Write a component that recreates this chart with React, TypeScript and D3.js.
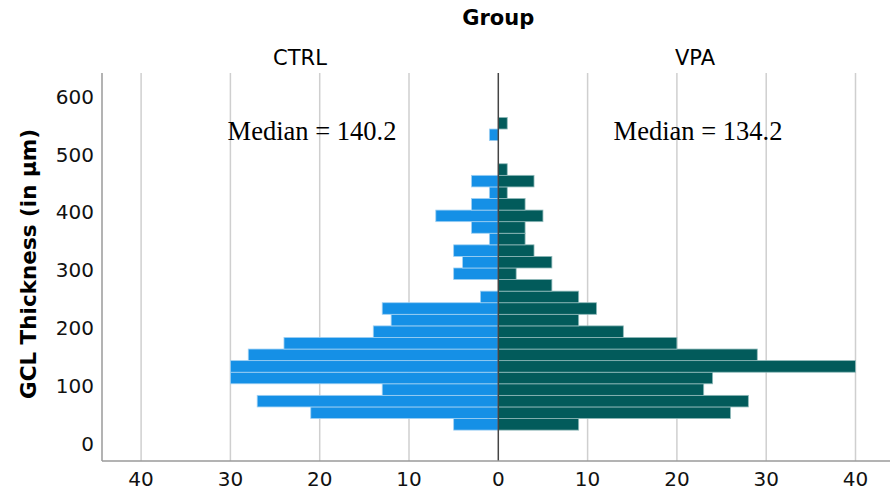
import React from "react";
import * as d3 from "d3";

// Histogram bins of GCL thickness (µm), lower edges, width 20
const binLower = [24, 44, 64, 84, 104, 124, 144, 164, 184, 204, 224, 244, 264, 284, 304, 324, 344, 364, 384, 404, 424, 444, 464, 484, 504, 524, 544];
const BIN_WIDTH = 20;

// Frequencies per bin
const ctrlCounts = [5, 21, 27, 13, 30, 30, 28, 24, 14, 12, 13, 2, 0, 5, 4, 5, 1, 3, 7, 3, 1, 3, 0, 0, 0, 1, 0];
const vpaCounts = [9, 26, 28, 23, 24, 40, 29, 20, 14, 9, 11, 9, 6, 2, 6, 4, 3, 3, 5, 3, 1, 4, 1, 0, 0, 0, 1];

const groups = ["CTRL", "VPA"];
const medians = [140.2, 134.2];
const yTicks = [0, 100, 200, 300, 400, 500, 600];
const xTicks = [0, 10, 20, 30, 40];

const W = 890;
const H = 496;
const plotLeft = 102;
const plotTop = 73;
const plotBottom = 461;
const centerX = 498.3;

const CTRL_COLOR = "#1590e6";
const VPA_COLOR = "#025b5b";
const SANS = "'DejaVu Sans', Verdana, sans-serif";
const SERIF = "'Liberation Serif', 'Times New Roman', serif";

export default function App() {
  const xLeft = d3.scaleLinear().domain([0, 40]).range([centerX, 141.1]);
  const xRight = d3.scaleLinear().domain([0, 40]).range([centerX, 855.5]);
  const y = d3.scaleLinear().domain([0, 600]).range([444, 96.6]);

  const gridXs = [
    ...xTicks.filter((t) => t > 0).map((t) => xLeft(t)),
    ...xTicks.filter((t) => t > 0).map((t) => xRight(t)),
  ];

  return (
    <svg width={W} height={H} style={{ position: "absolute", left: 0, top: 0, background: "#fff" }}>
      {/* titles */}
      <text x={centerX} y={25} textAnchor="middle" fontFamily={SANS} fontWeight="bold" fontSize={21}>
        Group
      </text>
      <text x={300} y={64.5} textAnchor="middle" fontFamily={SANS} fontSize={21}>
        {groups[0]}
      </text>
      <text x={695} y={64.5} textAnchor="middle" fontFamily={SANS} fontSize={21}>
        {groups[1]}
      </text>

      {/* gridlines */}
      {gridXs.map((gx, i) => (
        <line key={i} x1={gx} x2={gx} y1={plotTop} y2={plotBottom} stroke="#cfcfcf" strokeWidth={1.5} />
      ))}

      {/* bars */}
      {binLower.map((lo, i) => {
        const yTop = y(lo + BIN_WIDTH);
        const h = y(lo) - yTop;
        return (
          <g key={lo}>
            {ctrlCounts[i] > 0 && (
              <rect
                x={xLeft(ctrlCounts[i])}
                y={yTop}
                width={centerX - xLeft(ctrlCounts[i])}
                height={h}
                fill={CTRL_COLOR}
                stroke="#9fd0f3"
                strokeWidth={0.8}
              />
            )}
            {vpaCounts[i] > 0 && (
              <rect
                x={centerX}
                y={yTop}
                width={xRight(vpaCounts[i]) - centerX}
                height={h}
                fill={VPA_COLOR}
                stroke="#8fb9b9"
                strokeWidth={0.8}
              />
            )}
          </g>
        );
      })}

      {/* center line */}
      <line x1={centerX} x2={centerX} y1={plotTop} y2={plotBottom} stroke="#444" strokeWidth={1.5} />

      {/* axes */}
      <line x1={plotLeft} x2={plotLeft} y1={plotTop} y2={plotBottom} stroke="#9a9a9a" strokeWidth={1.5} />
      <line x1={plotLeft} x2={W} y1={plotBottom} y2={plotBottom} stroke="#9a9a9a" strokeWidth={1.5} />

      {/* y ticks */}
      {yTicks.map((t) => (
        <text key={t} x={94} y={y(t) + 7} textAnchor="end" fontFamily={SANS} fontSize={20} fill="#111">
          {t}
        </text>
      ))}

      {/* x ticks */}
      {xTicks.map((t) => (
        <text key={"l" + t} x={xLeft(t)} y={486} textAnchor="middle" fontFamily={SANS} fontSize={20} fill="#111">
          {t}
        </text>
      ))}
      {xTicks
        .filter((t) => t > 0)
        .map((t) => (
          <text key={"r" + t} x={xRight(t)} y={486} textAnchor="middle" fontFamily={SANS} fontSize={20} fill="#111">
            {t}
          </text>
        ))}

      {/* y axis title */}
      <text
        transform={`translate(36, 264) rotate(-90)`}
        textAnchor="middle"
        fontFamily={SANS}
        fontWeight="bold"
        fontSize={21.5}
      >
        GCL Thickness (in µm)
      </text>

      {/* medians */}
      <text x={312} y={139.5} textAnchor="middle" fontFamily={SERIF} fontSize={26.5}>
        {`Median = ${medians[0].toFixed(1)}`}
      </text>
      <text x={698} y={139.5} textAnchor="middle" fontFamily={SERIF} fontSize={26.5}>
        {`Median = ${medians[1].toFixed(1)}`}
      </text>
    </svg>
  );
}
